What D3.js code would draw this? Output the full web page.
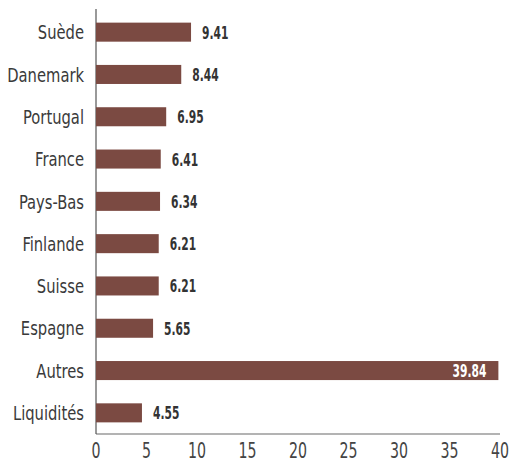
<!DOCTYPE html>
<html>
<head>
<meta charset="utf-8">
<script src="https://cdn.jsdelivr.net/npm/d3@7"></script>
<style>
  body { margin: 0; background: #fff; }
  text { font-family: "DejaVu Sans Condensed", "Liberation Sans Narrow", sans-serif; }
</style>
</head>
<body>
<div class="bar-chart"></div>
<script>
var categories = ["Suède", "Danemark", "Portugal", "France", "Pays-Bas", "Finlande", "Suisse", "Espagne", "Autres", "Liquidités"];
var values = [9.41, 8.44, 6.95, 6.41, 6.34, 6.21, 6.21, 5.65, 39.84, 4.55];
var xTicks = [0, 5, 10, 15, 20, 25, 30, 35, 40];

var w = 516;
var h = 463;
var mLeft = 96, mRight = 500, mTop = 11, mBottom = 434;

var x = d3.scaleLinear().domain([0, 40]).range([mLeft, mRight]);
var y = d3.scaleBand().domain(categories).range([mTop, mBottom]).paddingInner(0.55).paddingOuter(0.275);

// the original font is a narrow one, so squeeze text horizontally
function place(px, py, sx) {
  return "translate(" + px + "," + py + ") scale(" + sx + ",1)";
}

var svg = d3.select(".bar-chart")
            .append("svg")
            .attr("width", w)
            .attr("height", h);

// x axis line
svg.append("line")
   .attr("x1", mLeft).attr("x2", mRight)
   .attr("y1", mBottom).attr("y2", mBottom)
   .attr("stroke", "#9a9a9a")
   .attr("stroke-width", 1.5);

// y axis line
svg.append("line")
   .attr("x1", mLeft).attr("x2", mLeft)
   .attr("y1", mTop - 2).attr("y2", mBottom)
   .attr("stroke", "#555")
   .attr("stroke-width", 1.2);

// tick labels on x
svg.selectAll("text.xtick")
   .data(xTicks)
   .enter()
   .append("text")
   .attr("class", "xtick")
   .attr("transform", function(d) { return place(x(d), 450, 0.75); })
   .attr("dy", "0.36em")
   .attr("text-anchor", "middle")
   .attr("fill", "#444")
   .attr("font-size", 21)
   .text(function(d) { return d; });

// category labels
svg.selectAll("text.cat")
   .data(categories)
   .enter()
   .append("text")
   .attr("class", "cat")
   .attr("transform", function(d) { return place(84, y(d) + y.bandwidth() / 2, 0.82); })
   .attr("dy", "0.36em")
   .attr("text-anchor", "end")
   .attr("fill", "#3a3a3a")
   .attr("font-size", 20)
   .text(function(d) { return d; });

// bars
var bars = svg.selectAll("g.bar")
              .data(values)
              .enter()
              .append("g")
              .attr("class", "bar");

bars.append("rect")
    .attr("x", x(0))
    .attr("y", function(d, i) { return y(categories[i]); })
    .attr("width", function(d) { return x(d) - x(0); })
    .attr("height", y.bandwidth())
    .attr("fill", "#7b4a42");

// value labels, inside the bar when it is long
bars.append("text")
    .attr("transform", function(d, i) {
      var cy = y(categories[i]) + y.bandwidth() / 2;
      return place(d > 30 ? x(d) - 12 : x(d) + 11, cy, 0.66);
    })
    .attr("dy", "0.36em")
    .attr("text-anchor", function(d) { return d > 30 ? "end" : "start"; })
    .attr("fill", function(d) { return d > 30 ? "#fff" : "#333"; })
    .attr("font-size", 18)
    .attr("font-weight", "bold")
    .text(function(d) { return d.toFixed(2); });
</script>
</body>
</html>
